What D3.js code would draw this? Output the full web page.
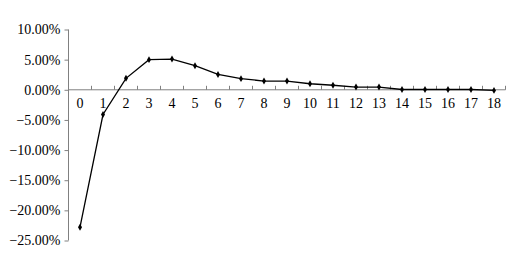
<!DOCTYPE html>
<html><head><meta charset="utf-8">
<script src="https://cdn.jsdelivr.net/npm/d3@7"></script>
<style>
html,body{margin:0;padding:0;background:#fff;}
</style></head>
<body><svg id="c" width="525" height="254"></svg>
<script>
const categories = [0,1,2,3,4,5,6,7,8,9,10,11,12,13,14,15,16,17,18];
const values = [-22.8,-4.1,1.9,5.0,5.1,4.0,2.55,1.85,1.45,1.45,1.0,0.75,0.45,0.45,0.05,0.05,0.05,0.05,-0.1];
const yTicks = [10,5,0,-5,-10,-15,-20,-25];

const FONT = "'Liberation Serif', 'Times New Roman', serif";
const svg = d3.select("#c");
const x = d3.scaleBand().domain(categories).range([68.5,505.5]).padding(0);
const y = d3.scaleLinear().domain([-25,10]).range([240.5,29.5]);
const axisColor = "#808080";

// Y axis
const yAxis = svg.append("g").attr("transform","translate(68.5,0)")
  .call(d3.axisLeft(y).tickValues(yTicks).tickSize(4).tickPadding(4)
    .tickFormat(d => (d<0?"\u2212":"") + Math.abs(d).toFixed(2) + "%"));
yAxis.attr("font-family",null).attr("font-size",null);
yAxis.select(".domain").attr("stroke",axisColor).attr("d","M0,"+y(-25)+"V"+y(10));
yAxis.selectAll(".tick line").attr("stroke",axisColor);
yAxis.selectAll("text").attr("fill","#000").style("font-family",FONT).style("font-size","14px");

// X axis at zero
const xg = svg.append("g").attr("transform","translate(0,"+y(0)+")");
xg.append("line").attr("x1",x.range()[0]).attr("x2",x.range()[1]).attr("stroke",axisColor);
const boundaries = categories.map(c=>x(c)).concat([x.range()[1]]);
xg.selectAll("line.tk").data(boundaries).join("line").attr("class","tk")
  .attr("x1",d=>d).attr("x2",d=>d).attr("y1",0).attr("y2",-4).attr("stroke",axisColor);
xg.selectAll("text").data(categories).join("text")
  .attr("x",d=>x(d)+x.bandwidth()/2).attr("y",18).attr("text-anchor","middle")
  .style("font-family",FONT).style("font-size","14px").attr("fill","#000")
  .text(d=>d);

// Line
const line = d3.line().x((d,i)=>x(categories[i])+x.bandwidth()/2).y(d=>y(d));
svg.append("path").datum(values).attr("d",line).attr("fill","none")
  .attr("stroke","#000").attr("stroke-width",1.3);
svg.selectAll("path.m").data(values).join("path").attr("class","m")
  .attr("d",d3.symbol(d3.symbolDiamond,14))
  .attr("transform",(d,i)=>"translate("+(x(categories[i])+x.bandwidth()/2)+","+y(d)+")")
  .attr("fill","#000");
</script></body></html>
